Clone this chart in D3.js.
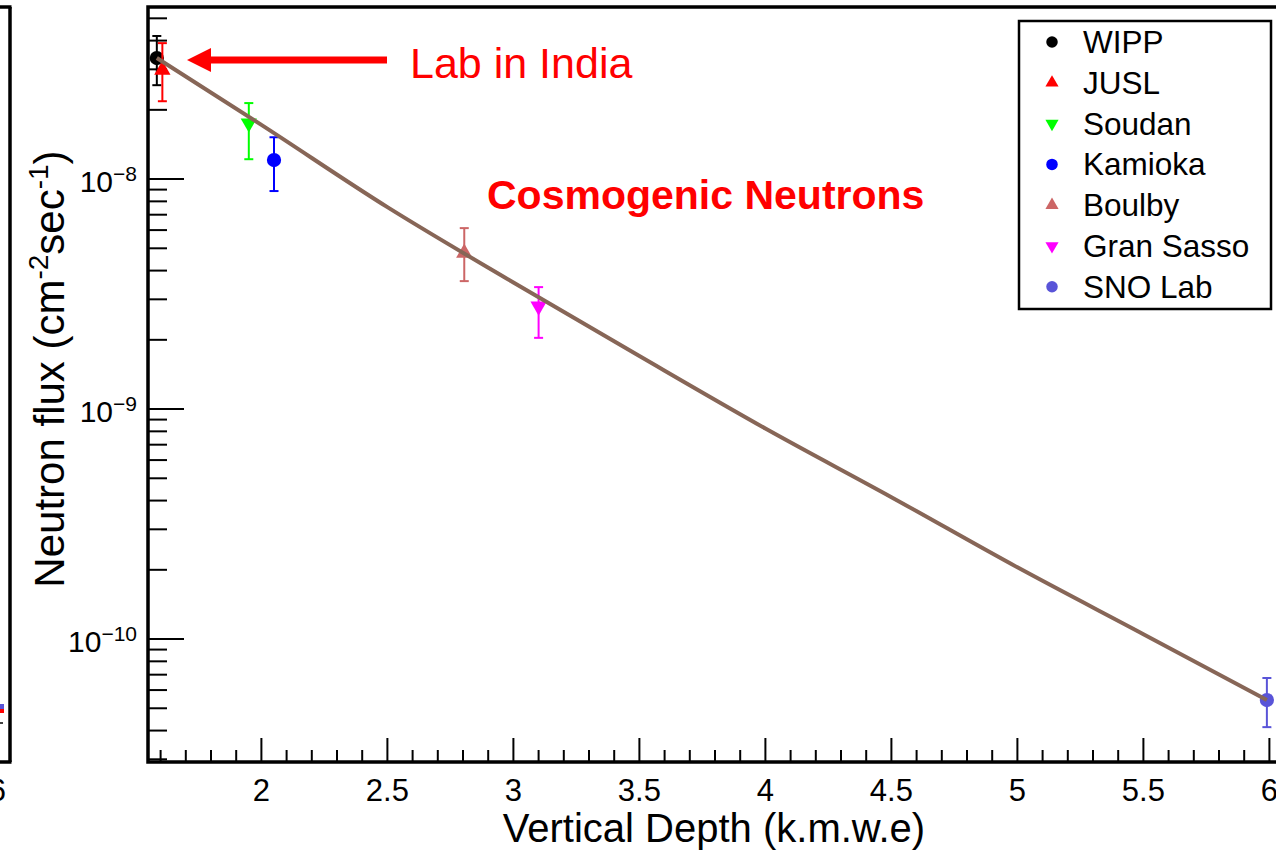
<!DOCTYPE html>
<html>
<head>
<meta charset="utf-8">
<script src="https://cdn.jsdelivr.net/npm/d3@7"></script>
<style>
  html, body { margin: 0; padding: 0; background: #fff; }
  svg { display: block; }
  text { font-family: "Liberation Sans", Arial, sans-serif; }
</style>
</head>
<body>
<svg id="chart" width="1276" height="855"></svg>
<script>
// ---- data ----
const sites   = ["WIPP", "JUSL", "Soudan", "Kamioka", "Boulby", "Gran Sasso", "SNO Lab"];
const depth   = [1.585, 1.607, 1.95, 2.05, 2.805, 3.10, 5.99];
const flux    = [3.36e-8, 2.98e-8, 1.75e-8, 1.21e-8, 4.77e-9, 2.80e-9, 5.43e-11];
const fluxHi  = [4.19e-8, 3.90e-8, 2.14e-8, 1.52e-8, 6.12e-9, 3.39e-9, 6.77e-11];
const fluxLo  = [2.56e-8, 2.18e-8, 1.22e-8, 8.87e-9, 3.60e-9, 2.04e-9, 4.14e-11];
const colors  = ["#000000", "#ff0000", "#00ff00", "#0000ff", "#cc6666", "#ff00ff", "#5954d8"];
const shapes  = ["circle", "up", "down", "circle", "up", "down", "circle"];

const fitDepth = [1.585, 2.0, 2.5, 3.0, 3.5, 4.0, 4.5, 5.0, 5.5, 5.99];
const fitFlux  = [3.36e-8, 1.72e-8, 7.55e-9, 3.55e-9, 1.70e-9, 8.23e-10, 4.14e-10, 2.05e-10, 1.05e-10, 5.43e-11];

const xTickValues = [2, 2.5, 3, 3.5, 4, 4.5, 5, 5.5, 6];
const xTickLabels = ["2", "2.5", "3", "3.5", "4", "4.5", "5", "5.5", "6"];
const yTickValues = [1e-10, 1e-9, 1e-8];
const yTickExps   = ["\u221210", "\u22129", "\u22128"];

const xTitle = "Vertical Depth (k.m.w.e)";
const annotation1 = "Lab in India";
const annotation2 = "Cosmogenic Neutrons";

// ---- layout ----
const svg = d3.select("#chart");
const L = 148, T = 7, B = 762;
const x = d3.scaleLinear().domain([1.55, 6.05]).range([L, L + 4.5 * 252]);
const y = d3.scaleLog().domain([2.92e-11, 5.6e-8]).range([B, T]);
const R = x(6.05);

// left neighbouring panel (cut off)
const lp = svg.append("g");
lp.append("line").attr("x1", 10).attr("x2", 10).attr("y1", T).attr("y2", B).attr("stroke", "#000").attr("stroke-width", 3.5);
lp.append("line").attr("x1", 0).attr("x2", 11.5).attr("y1", T).attr("y2", T).attr("stroke", "#000").attr("stroke-width", 3.5);
lp.append("line").attr("x1", 0).attr("x2", 11.5).attr("y1", B).attr("y2", B).attr("stroke", "#000").attr("stroke-width", 3.5);
lp.append("line").attr("x1", 0).attr("x2", 3).attr("y1", 723).attr("y2", 723).attr("stroke", "#000").attr("stroke-width", 1.5);
lp.append("rect").attr("x", 0).attr("y", 704).attr("width", 4).attr("height", 5).attr("fill", "#5954d8");
lp.append("rect").attr("x", 0).attr("y", 709).attr("width", 4).attr("height", 4).attr("fill", "#ff0000");
lp.append("text").attr("x", 6).attr("y", 801).attr("text-anchor", "end").attr("font-size", 31).text("6");

// minor / major ticks
const g = svg.append("g");
const xMinor = d3.range(16, 61).map(v => v / 10);
xMinor.forEach(v => {
  const major = Math.abs(v * 2 - Math.round(v * 2)) < 1e-9;
  g.append("line").attr("x1", x(v)).attr("x2", x(v))
    .attr("y1", B).attr("y2", B - (major ? 24 : 12))
    .attr("stroke", "#000").attr("stroke-width", 2);
});
const yMinor = [];
[-11, -10, -9, -8].forEach(e => { for (let m = 1; m <= 9; m++) yMinor.push(m * Math.pow(10, e)); });
yMinor.filter(v => v >= 2.92e-11 && v <= 5.6e-8).forEach(v => {
  const major = yTickValues.some(t => Math.abs(t - v) / t < 1e-6);
  g.append("line").attr("x1", L).attr("x2", L + (major ? 36 : 19))
    .attr("y1", y(v)).attr("y2", y(v))
    .attr("stroke", "#000").attr("stroke-width", 2);
});

// tick labels
xTickValues.forEach((v, i) => {
  svg.append("text").attr("x", x(v)).attr("y", 801).attr("text-anchor", "middle")
    .attr("font-size", 31).text(xTickLabels[i]);
});
yTickValues.forEach((v, i) => {
  const t = svg.append("text").attr("x", 137).attr("y", y(v) + 13).attr("text-anchor", "end").attr("font-size", 30);
  t.append("tspan").text("10");
  t.append("tspan").attr("dy", -11).attr("font-size", 21).text(yTickExps[i]);
});

// axis titles
svg.append("text").attr("x", 714).attr("y", 842).attr("text-anchor", "middle")
  .attr("font-size", 40).text(xTitle);
const yt = svg.append("text").attr("transform", "translate(64,369) rotate(-90)")
  .attr("text-anchor", "middle").attr("font-size", 42);
yt.append("tspan").text("Neutron flux (cm");
yt.append("tspan").attr("dy", -16).attr("font-size", 28).text("-2");
yt.append("tspan").attr("dy", 16).text("sec");
yt.append("tspan").attr("dy", -16).attr("font-size", 28).text("-1");
yt.append("tspan").attr("dy", 16).text(")");

// markers
function symbolPath(shape, scale) {
  if (shape === "circle") return d3.symbol().type(d3.symbolCircle).size(160 * scale)();
  return d3.symbol().type(d3.symbolTriangle).size(115 * scale)();
}
sites.forEach((s, i) => {
  const cx = x(depth[i]);
  const gp = svg.append("g");
  gp.append("line").attr("x1", cx).attr("x2", cx).attr("y1", y(fluxHi[i])).attr("y2", y(fluxLo[i]))
    .attr("stroke", colors[i]).attr("stroke-width", 2);
  [fluxHi[i], fluxLo[i]].forEach(v => {
    gp.append("line").attr("x1", cx - 4.5).attr("x2", cx + 4.5).attr("y1", y(v)).attr("y2", y(v))
      .attr("stroke", colors[i]).attr("stroke-width", 2);
  });
  gp.append("path").attr("d", symbolPath(shapes[i], 1))
    .attr("transform", `translate(${cx},${y(flux[i])})` + (shapes[i] === "down" ? " rotate(180)" : ""))
    .attr("fill", colors[i]);
});

// fit line (drawn over the markers, as in the reference)
const line = d3.line().x(d => x(d[0])).y(d => y(d[1])).curve(d3.curveMonotoneX);
svg.append("path").datum(fitDepth.map((d, i) => [d, fitFlux[i]]))
  .attr("d", line).attr("fill", "none").attr("stroke", "#876657").attr("stroke-width", 4);

// frame
svg.append("rect").attr("x", L).attr("y", T).attr("width", R - L).attr("height", B - T)
  .attr("fill", "none").attr("stroke", "#000").attr("stroke-width", 3.5);

// legend
const lg = svg.append("g");
lg.append("rect").attr("x", 1019).attr("y", 21).attr("width", 252).attr("height", 288)
  .attr("fill", "#fff").attr("stroke", "#000").attr("stroke-width", 2.5);
sites.forEach((s, i) => {
  const cy = 42 + i * 40.8;
  lg.append("path").attr("d", symbolPath(shapes[i], 0.65))
    .attr("transform", `translate(1052,${cy})` + (shapes[i] === "down" ? " rotate(180)" : ""))
    .attr("fill", colors[i]);
  lg.append("text").attr("x", 1083).attr("y", cy + 11).attr("font-size", 31.5).text(s);
});

// annotations
svg.append("line").attr("x1", 387).attr("x2", 205).attr("y1", 60).attr("y2", 60)
  .attr("stroke", "#ff0000").attr("stroke-width", 7);
svg.append("path").attr("d", "M187,60 L211,48 L211,72 Z").attr("fill", "#ff0000");
svg.append("text").attr("x", 410).attr("y", 78).attr("font-family", "Lato, 'Open Sans', sans-serif")
  .attr("font-size", 43).attr("fill", "#ff0000").text(annotation1);
svg.append("text").attr("x", 487).attr("y", 209).attr("font-family", "Lato, 'Open Sans', sans-serif")
  .attr("font-weight", "bold").attr("font-size", 41).attr("fill", "#ff0000").text(annotation2);
</script>
</body>
</html>
